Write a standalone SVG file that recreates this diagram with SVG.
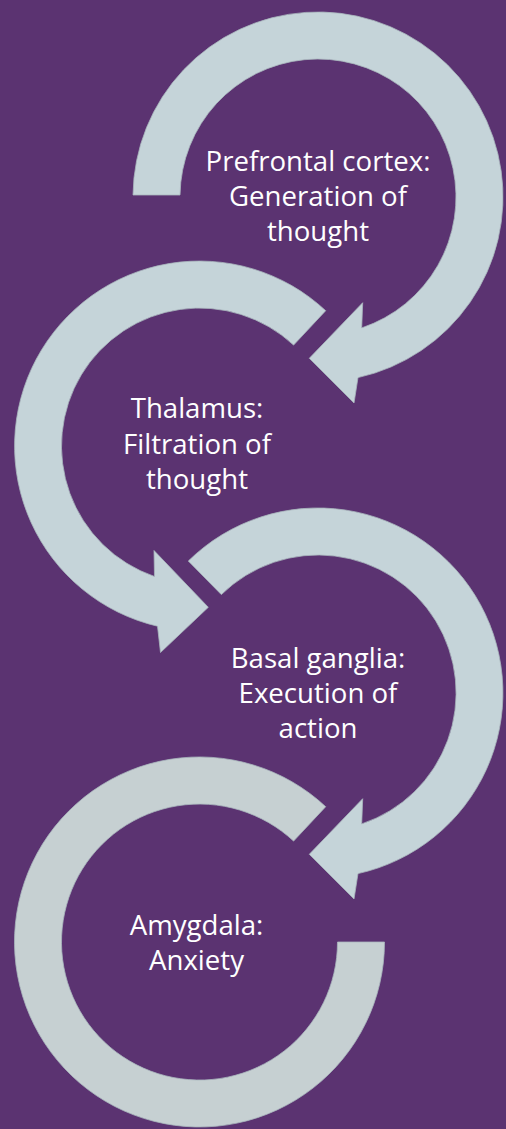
<svg xmlns="http://www.w3.org/2000/svg" width="506" height="1129" viewBox="0 0 506 1129">
  <style>
    .ring { fill: #C5D4D9; stroke: #A9B8BE; stroke-width: 0.8; stroke-linejoin: miter; }
    .ring.grey { fill: #C6D0D2; }
    .lbl { font-family: "Open Sans", "Liberation Sans", sans-serif; font-size: 27.6px; fill: #FFFFFF; text-anchor: middle; }
  </style>
  <rect x="0" y="0" width="506" height="1129" fill="#5B3371"/>
  <g id="connectors"/>
  <g id="node-prefrontal">
    <path class="ring" d="M 133 195 A 185 185 0 1 1 358 377.6 L 354 403 L 309.3 358.3 L 362.7 302.7 L 361.7 327.9 A 138 138 0 1 0 180 195 Z"/>
    <text class="lbl" x="318" y="171">Prefrontal cortex:</text>
    <text class="lbl" x="318" y="206">Generation of</text>
    <text class="lbl" x="318" y="241">thought</text>
  </g>
  <g id="node-thalamus">
    <path class="ring" d="M 325.7 310.7 A 185 185 0 1 0 157.5 626.2 L 160.5 652.5 L 208.3 607.3 L 154 550.5 L 154.5 576.5 A 138 138 0 1 1 293.6 345.1 Z"/>
    <text class="lbl" x="197" y="418">Thalamus:</text>
    <text class="lbl" x="197" y="453.5">Filtration of</text>
    <text class="lbl" x="197" y="489">thought</text>
  </g>
  <g id="node-basal-ganglia">
    <path class="ring" d="M 188.3 561 A 185 185 0 1 1 358 873.6 L 354 899 L 309.3 854.3 L 362.7 798.7 L 361.7 823.9 A 138 138 0 1 0 221.3 594.6 Z"/>
    <text class="lbl" x="318" y="668">Basal ganglia:</text>
    <text class="lbl" x="318" y="703">Execution of</text>
    <text class="lbl" x="318" y="738">action</text>
  </g>
  <g id="node-amygdala">
    <path class="ring grey" d="M 325.7 806.7 A 185 185 0 1 0 384.5 942 L 337.5 942 A 138 138 0 1 1 293.6 841.1 Z"/>
    <text class="lbl" x="196.5" y="935">Amygdala:</text>
    <text class="lbl" x="196.5" y="969.5">Anxiety</text>
  </g>
</svg>
